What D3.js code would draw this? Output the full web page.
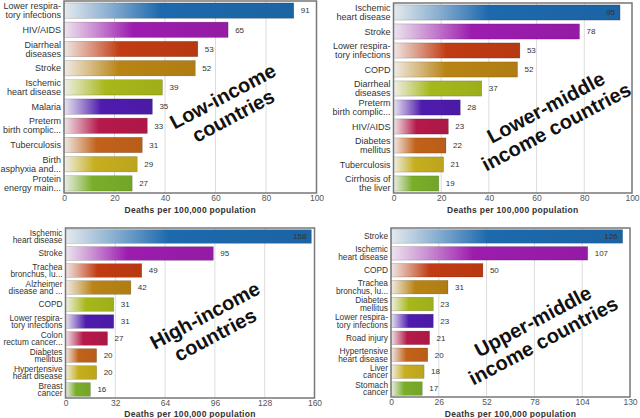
<!DOCTYPE html>
<html>
<head>
<meta charset="utf-8">
<script src="https://cdn.jsdelivr.net/npm/d3@7"></script>
<style>
  body { margin: 0; background: #fff; }
  svg { display: block; font-family: "Liberation Sans", Arial, sans-serif; }
</style>
</head>
<body>
<svg id="viz" width="640" height="418"></svg>
<script>
// Data
const lowCauses = ["Lower respira-\ntory infections", "HIV/AIDS", "Diarrheal\ndiseases", "Stroke",
    "Ischemic\nheart disease", "Malaria", "Preterm\nbirth complic...", "Tuberculosis",
    "Birth\nasphyxia and...", "Protein\nenergy main..."];
const lowValues = [91, 65, 53, 52, 39, 35, 33, 31, 29, 27];

const lowerMidCauses = ["Ischemic\nheart disease", "Stroke", "Lower respira-\ntory infections", "COPD",
    "Diarrheal\ndiseases", "Preterm\nbirth complic...", "HIV/AIDS", "Diabetes\nmellitus",
    "Tuberculosis", "Cirrhosis of\nthe liver"];
const lowerMidValues = [95, 78, 53, 52, 37, 28, 23, 22, 21, 19];

const highCauses = ["Ischemic\nheart disease", "Stroke", "Trachea\nbronchus, lu...", "Alzheimer\ndisease and ...",
    "COPD", "Lower respira-\ntory infections", "Colon\nrectum cancer...", "Diabetes\nmellitus",
    "Hypertensive\nheart disease", "Breast\ncancer"];
const highValues = [158, 95, 49, 42, 31, 31, 27, 20, 20, 16];

const upperMidCauses = ["Stroke", "Ischemic\nheart disease", "COPD", "Trachea\nbronchus, lu...",
    "Diabetes\nmellitus", "Lower respira-\ntory infections", "Road injury", "Hypertensive\nheart disease",
    "Liver\ncancer", "Stomach\ncancer"];
const upperMidValues = [126, 107, 50, 31, 23, 23, 21, 20, 18, 17];

const lowTicks = [0, 20, 40, 60, 80, 100];
const highTicks = [0, 32, 64, 96, 128, 160];
const upperMidTicks = [0, 26, 52, 78, 104, 130];

const axisTitle = "Deaths per 100,000 population";

const barColors = ["#1d69ad", "#9c1cae", "#c13c12", "#b98414", "#a7b81b",
    "#4e1cae", "#b5194a", "#c2621a", "#c6ae1e", "#79ae29"];

const svg = d3.select("#viz");

// Gradients (one per rank colour)
const defs = svg.append("defs");
barColors.forEach((c, i) => {
    const g = defs.append("linearGradient")
        .attr("id", "grad" + i)
        .attr("x1", 0).attr("x2", 1).attr("y1", 0).attr("y2", 0);
    const mix = d3.interpolateRgb("#f2f2f2", c);
    g.append("stop").attr("offset", 0).attr("stop-color", mix(0.06));
    g.append("stop").attr("offset", 0.2).attr("stop-color", mix(0.5));
    g.append("stop").attr("offset", 0.42).attr("stop-color", c);
    g.append("stop").attr("offset", 1).attr("stop-color", d3.color(c).darker(0.15));
});

const panels = [
    { causes: lowCauses, values: lowValues, ticks: lowTicks,
      x0: 64, x1: 316.5, y0: 1, y1: 193, titleY: 212.5, catSize: 9, lineH: 9,
      label: ["Low-income", "countries"], lx: 228, ly: 106 },
    { causes: lowerMidCauses, values: lowerMidValues, ticks: lowTicks,
      x0: 393.5, x1: 632, y0: 3, y1: 193, titleY: 212.5, catSize: 9, lineH: 9,
      label: ["Lower-middle", "income countries"], lx: 551, ly: 117 },
    { causes: highCauses, values: highValues, ticks: highTicks,
      x0: 65.5, x1: 314.5, y0: 228, y1: 398, titleY: 416.5, catSize: 8.3, lineH: 7.8,
      label: ["High-income", "countries"], lx: 210, ly: 325 },
    { causes: upperMidCauses, values: upperMidValues, ticks: upperMidTicks,
      x0: 391, x1: 630, y0: 228, y1: 397, titleY: 416.5, catSize: 8.3, lineH: 7.8,
      label: ["Upper-middle", "income countries"], lx: 538, ly: 331 }
];

panels.forEach(drawPanel);

function drawPanel(p) {
    const data = p.causes.map((c, i) => ({ cause: c, value: p.values[i], rank: i }));

    const x = d3.scaleLinear()
        .domain([0, p.ticks[p.ticks.length - 1]])
        .range([p.x0, p.x1]);
    const y = d3.scaleBand()
        .domain(data.map(d => d.rank))
        .range([p.y0, p.y1])
        .paddingInner(0.2)
        .paddingOuter(0.1);

    const g = svg.append("g");

    // grid
    g.selectAll("line.grid")
        .data(p.ticks.slice(1, -1))
        .enter().append("line")
        .attr("x1", d => x(d)).attr("x2", d => x(d))
        .attr("y1", p.y0).attr("y2", p.y1)
        .attr("stroke", "#dcdcdc")
        .attr("stroke-width", 1);

    // bars
    g.selectAll("rect.bar")
        .data(data)
        .enter().append("rect")
        .attr("x", x(0))
        .attr("y", d => y(d.rank))
        .attr("width", d => x(d.value) - x(0))
        .attr("height", y.bandwidth())
        .attr("fill", d => `url(#grad${d.rank})`)
        .attr("stroke", "rgba(0,0,0,0.25)")
        .attr("stroke-width", 0.6);

    // value labels
    g.selectAll("text.val")
        .data(data)
        .enter().append("text")
        .attr("y", d => y(d.rank) + y.bandwidth() / 2)
        .attr("dy", "0.35em")
        .attr("font-size", 8)
        .attr("fill", "#333")
        .each(function (d) {
            const inside = x(d.value) + 20 > p.x1;
            d3.select(this)
                .attr("x", inside ? x(d.value) - 5 : x(d.value) + 7)
                .attr("text-anchor", inside ? "end" : "start")
                .text(d.value);
        });

    // category labels
    const cat = g.selectAll("text.cat")
        .data(data)
        .enter().append("text")
        .attr("text-anchor", "end")
        .attr("font-size", p.catSize)
        .attr("fill", "#333");
    cat.each(function (d) {
        const lines = d.cause.split("\n");
        const cy = y(d.rank) + y.bandwidth() / 2;
        const start = cy - (lines.length - 1) * p.lineH / 2;
        d3.select(this).selectAll("tspan")
            .data(lines)
            .enter().append("tspan")
            .attr("x", p.x0 - 3)
            .attr("y", (l, i) => start + i * p.lineH)
            .attr("dy", "0.35em")
            .text(l => l);
    });

    // frame
    g.append("rect")
        .attr("x", p.x0).attr("y", p.y0)
        .attr("width", p.x1 - p.x0).attr("height", p.y1 - p.y0)
        .attr("fill", "none")
        .attr("stroke", "#777")
        .attr("stroke-width", 1.5);

    // x axis
    const axis = g.append("g")
        .attr("transform", `translate(0,${p.y1})`)
        .call(d3.axisBottom(x).tickValues(p.ticks).tickSize(0).tickPadding(2));
    axis.select(".domain").remove();
    axis.selectAll("text")
        .attr("font-size", 8.5)
        .attr("fill", "#555")
        .attr("font-family", "Liberation Sans, Arial, sans-serif");

    g.append("text")
        .attr("x", (p.x0 + p.x1) / 2)
        .attr("y", p.titleY)
        .attr("text-anchor", "middle")
        .attr("font-size", 8.5)
        .attr("letter-spacing", 0.3)
        .attr("font-weight", "bold")
        .attr("fill", "#333")
        .text(axisTitle);

    // big rotated annotation
    const big = g.append("text")
        .attr("transform", `translate(${p.lx},${p.ly}) rotate(-28)`)
        .attr("text-anchor", "middle")
        .attr("font-size", 20)
        .attr("font-weight", "bold")
        .attr("fill", "#111");
    big.selectAll("tspan")
        .data(p.label)
        .enter().append("tspan")
        .attr("x", 0)
        .attr("y", (l, i) => (i - 0.5) * 22 + 7)
        .text(l => l);
}
</script>
</body>
</html>
